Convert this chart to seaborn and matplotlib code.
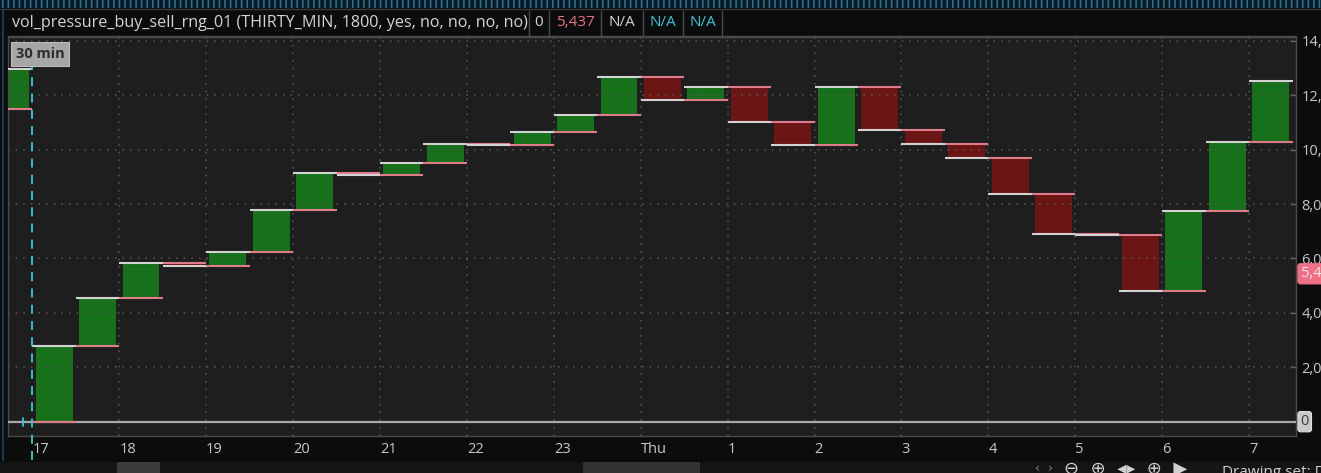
import numpy as np
import pandas as pd
import matplotlib
matplotlib.use("Agg")
import matplotlib.pyplot as plt
from matplotlib.patches import Rectangle
from matplotlib.lines import Line2D
import seaborn as sns

# ---------------- data ----------------
bar_times = ["16:30", "17:00", "17:30", "18:00", "18:30", "19:00", "19:30", "20:00",
             "20:30", "21:00", "21:30", "22:00", "22:30", "23:00", "23:30", "00:00",
             "00:30", "01:00", "01:30", "02:00", "02:30", "03:00", "03:30", "04:00",
             "04:30", "05:00", "05:30", "06:00", "06:30", "07:00"]
opens = [11480, 0, 2790, 4550, 5845, 5735, 6250, 7780,
         9150, 9060, 9520, 10210, 10160, 10650, 11265, 12660,
         11815, 12315, 11030, 10160, 12315, 10710, 10210, 9695,
         8370, 6905, 6865, 4805, 7760, 10295]
closes = [12970, 2790, 4550, 5845, 5735, 6250, 7780, 9150,
          9060, 9520, 10210, 10160, 10650, 11265, 12660, 11815,
          12315, 11030, 10160, 12315, 10710, 10210, 9695, 8370,
          6905, 6865, 4805, 7760, 10295, 12535]
hour_labels = ["17", "18", "19", "20", "21", "22", "23", "Thu",
               "1", "2", "3", "4", "5", "6", "7"]
y_ticks = [2000, 4000, 6000, 8000, 10000, 12000, 14000]
y_tick_labels = ["2,000", "4,000", "6,000", "8,000", "10,000", "12,000", "14,000"]
header_title = "vol_pressure_buy_sell_rng_01 (THIRTY_MIN, 1800, yes, no, no, no, no)"
header_values = ["0", "5,437", "N/A", "N/A", "N/A"]
zero_marker = 0
last_marker = 5437
last_marker_text = "5,437"

# ---------------- style ----------------
W, H = 1321, 473
sns.set_theme(style="dark")
plt.rcParams['font.family'] = ['Open Sans', 'DejaVu Sans']
plt.rcParams['hatch.linewidth'] = 1.2

BG_OUT = '#0c0c0c'
BG_PLOT = '#1e1e1e'
GREEN = '#17701a'
RED = '#6b1515'
TXT = '#c8c8c8'
CYAN = '#2fcad8'
GRID = '#585858'

fig = plt.figure(figsize=(W / 100, H / 100), dpi=100, facecolor=BG_OUT)


def fx(px):
    return px / W


def fy(py):
    return 1 - py / H


ax = fig.add_axes([fx(8), fy(436), fx(1296) - fx(8), fy(37) - fy(436)])
ax.set_facecolor(BG_PLOT)

df = pd.DataFrame({"time": bar_times, "open": opens, "close": closes})
df["slot"] = np.arange(len(df)) - 1          # the 17:00 session bar sits at slot 0
df["low"] = df[["open", "close"]].min(axis=1)
df["high"] = df[["open", "close"]].max(axis=1)
df["span"] = df["high"] - df["low"]
df["up"] = df["close"] >= df["open"]

for up, color in [(True, GREEN), (False, RED)]:
    sub = df[df["up"] == up].sort_values("slot")
    sns.barplot(data=sub, x="slot", y="span", native_scale=True, width=0.85,
                color=color, saturation=1, errorbar=None,
                bottom=sub["low"].to_numpy(), linewidth=0, zorder=1, ax=ax)

# grid (drawn over the bars as in the reference)
hour_pos = [-0.5 + 2 * i for i in range(len(hour_labels))]
for v in y_ticks:
    ax.axhline(v, color=GRID, lw=1.1, ls=(0, (1, 4)), zorder=2)
for p in hour_pos[1:]:
    ax.axvline(p, color=GRID, lw=1.1, ls=(0, (1, 4)), zorder=2)

# zero line
ax.axhline(zero_marker, color='#a9a9a9', lw=1.6, zorder=3)

# open (pink) and close (white) level lines for each bar slot
ax.hlines(df["open"], df["slot"] - 0.5, df["slot"] + 0.5, colors='#e07b8b', lw=1.5, zorder=4)
ax.hlines(df["close"], df["slot"] - 0.5, df["slot"] + 0.5, colors='#d2d2d2', lw=1.5, zorder=4)

# session start marker
ax.axvline(hour_pos[0], ymin=-0.06, ymax=1.0, color=CYAN, lw=1.3,
           ls=(0, (5, 4)), clip_on=False, zorder=5)
ax.plot([-0.72, -0.72], [-150, 150], color=CYAN, lw=1.3, zorder=5)

ax.set_xlim(-1.06, 28.58)
ax.set_ylim(-526, 14142)
ax.set_xlabel("")
ax.set_ylabel("")
ax.grid(False)

ax.set_xticks(hour_pos)
ax.set_xticklabels(hour_labels)
for lbl in ax.get_xticklabels():
    lbl.set_ha('left')
ax.set_yticks(y_ticks)
ax.set_yticklabels(y_tick_labels)
ax.yaxis.tick_right()
ax.tick_params(axis='x', direction='in', length=4, width=1, color='#666666',
               labelcolor=TXT, labelsize=10.5, pad=4)
ax.tick_params(axis='y', direction='in', length=4, width=1, color='#666666',
               labelcolor=TXT, labelsize=10.5, pad=4, right=True, left=False)
for s in ax.spines.values():
    s.set_color('#4a4a4a')
    s.set_linewidth(1)
    s.set_visible(True)

# right-axis value markers
ytr = ax.get_yaxis_transform()
ax.text(1.0035, zero_marker, "0", transform=ytr, va='center', ha='left', fontsize=10.5,
        color='#3a3a3a', clip_on=False, zorder=6,
        bbox=dict(boxstyle='round,pad=0.18', fc='#c9c9c9', ec='#e0e0e0', lw=0.8))
ax.text(1.0035, last_marker, last_marker_text, transform=ytr, va='center', ha='left',
        fontsize=10.5, color='#fde8ec', clip_on=False, zorder=6,
        bbox=dict(boxstyle='round,pad=0.18', fc='#ef6f84', ec='#ef6f84', lw=0.8))

# "30 min" tag
fig.patches.append(Rectangle((fx(11), fy(66)), fx(58), fy(42) - fy(66), transform=fig.transFigure,
                             facecolor='#a6a6a6', edgecolor='#bdbdbd', lw=0.8, zorder=10))
fig.text(fx(40), fy(54), "30 min", ha='center', va='center', fontsize=10.5,
         fontweight='bold', color='#2e2e2e', zorder=11)

# ---------------- chrome: header, strips ----------------
# top strip (panel above)
fig.patches.append(Rectangle((0, fy(8)), 1, fy(0) - fy(8), transform=fig.transFigure,
                             facecolor='#0a1a24', edgecolor='#2a6f8c', hatch='|||', lw=0, zorder=1))
fig.add_artist(Line2D([0, 1], [fy(9), fy(9)], color='#3a3a3a', lw=1))
# header row
fig.add_artist(Line2D([fx(8), fx(1296)], [fy(36), fy(36)], color='#4a4a4a', lw=1))
fig.text(fx(12), fy(23), header_title, ha='left', va='center', fontsize=11.6, color='#d4d4d4')
seps = [529, 549, 601, 643, 683, 722]
for sx in seps:
    fig.add_artist(Line2D([fx(sx), fx(sx)], [fy(11), fy(35)], color='#4a4a4a', lw=1))
cell_colors = ['#d4d4d4', '#e8707f', '#d4d4d4', CYAN, CYAN]
for i, (val, col) in enumerate(zip(header_values, cell_colors)):
    cx = (seps[i] + seps[i + 1]) / 2
    fig.text(fx(cx), fy(23), val, ha='center', va='center', fontsize=11, color=col)
fig.add_artist(Line2D([fx(3), fx(3)], [fy(10), fy(460)], color='#1c3a50', lw=1.5))

# bottom scroll bar strip
fig.patches.append(Rectangle((0, 0), 1, fy(462), transform=fig.transFigure,
                             facecolor='#151515', lw=0, zorder=1))
fig.patches.append(Rectangle((fx(117), 0), fx(43), fy(462), transform=fig.transFigure,
                             facecolor='#3c3c3c', lw=0, zorder=2))
fig.patches.append(Rectangle((fx(583), 0), fx(117), fy(462), transform=fig.transFigure,
                             facecolor='#323232', lw=0, zorder=2))
fig.text(fx(1035), fy(468), "‹  ›", ha='left', va='center', fontsize=9, color='#8a8a8a',
         family=['DejaVu Sans'])
fig.text(fx(1064), fy(469), "⊖  ⊕  ◂▸  ⊕  ▶", ha='left', va='center', fontsize=13,
         color='#d0d0d0', family=['DejaVu Sans'])
fig.text(fx(1222), fy(472), "Drawing set: Default", ha='left', va='center', fontsize=11,
         color='#d0d0d0')

fig.savefig("out.png", dpi=100, facecolor=BG_OUT)
